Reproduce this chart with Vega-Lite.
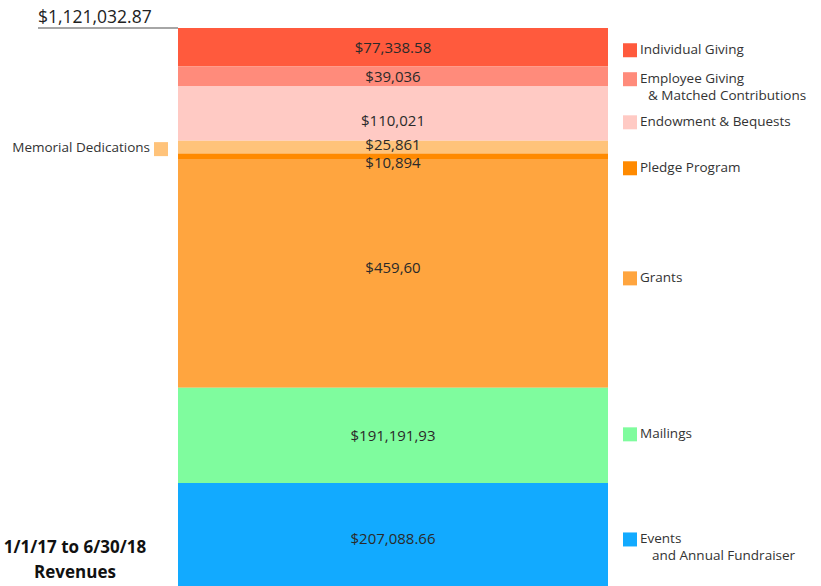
{
  "$schema": "https://vega.github.io/schema/vega-lite/v6.json",
  "width": 821,
  "height": 586,
  "padding": 0,
  "autosize": {"type": "none"},
  "background": "white",
  "config": {"view": {"stroke": null}, "font": "Open Sans"},
  "layer": [
    {
      "data": {
        "values": [
          {"period": "Revenues", "rank": 1, "cat": "Individual Giving", "value": 77338.58, "label": "$77,338.58", "legend": "Individual Giving", "legend2": ""},
          {"period": "Revenues", "rank": 2, "cat": "Employee Giving", "value": 39036, "label": "$39,036", "legend": "Employee Giving", "legend2": "& Matched Contributions"},
          {"period": "Revenues", "rank": 3, "cat": "Endowment & Bequests", "value": 110021, "label": "$110,021", "legend": "Endowment & Bequests", "legend2": ""},
          {"period": "Revenues", "rank": 4, "cat": "Memorial Dedications", "value": 25861, "label": "$25,861", "legend": "Memorial Dedications", "legend2": ""},
          {"period": "Revenues", "rank": 5, "cat": "Pledge Program", "value": 10894, "label": "$10,894", "legend": "Pledge Program", "legend2": ""},
          {"period": "Revenues", "rank": 6, "cat": "Grants", "value": 459601.7, "label": "$459,60", "legend": "Grants", "legend2": ""},
          {"period": "Revenues", "rank": 7, "cat": "Mailings", "value": 191191.93, "label": "$191,191,93", "legend": "Mailings", "legend2": ""},
          {"period": "Revenues", "rank": 8, "cat": "Events", "value": 207088.66, "label": "$207,088.66", "legend": "Events", "legend2": "and Annual Fundraiser"}
        ]
      },
      "transform": [
        {"stack": "value", "groupby": ["period"], "sort": [{"field": "rank", "order": "descending"}], "as": ["v0", "v1"]},
        {"calculate": "(datum.v0 + datum.v1) / 2", "as": "mid"}
      ],
      "layer": [
        {
          "mark": {"type": "bar"},
          "encoding": {
            "x": {"field": "period", "type": "nominal", "axis": null, "scale": {"type": "band", "range": [178, 608], "paddingInner": 0, "paddingOuter": 0}},
            "y": {"field": "v1", "type": "quantitative", "axis": null, "scale": {"domain": [0, 1121032.87], "range": [586, 28], "nice": false, "zero": true}},
            "y2": {"field": "v0"},
            "color": {
              "field": "cat", "type": "nominal", "legend": null,
              "scale": {
                "domain": ["Individual Giving", "Employee Giving", "Endowment & Bequests", "Memorial Dedications", "Pledge Program", "Grants", "Mailings", "Events"],
                "range": ["#FF5A3D", "#FF8B7B", "#FFCAC4", "#FFC37A", "#FF8A00", "#FFA53F", "#7FFC9E", "#12AAFF"]
              }
            }
          }
        },
        {
          "transform": [{"filter": "indexof(['Individual Giving','Employee Giving','Mailings'], datum.cat) >= 0"}],
          "mark": {"type": "text", "fontSize": 15, "color": "#2a2a2a", "dy": 1},
          "encoding": {"x": {"field": "period", "type": "nominal"}, "y": {"field": "mid", "type": "quantitative"}, "text": {"field": "label"}}
        },
        {
          "transform": [{"filter": "datum.cat == 'Memorial Dedications'"}],
          "mark": {"type": "text", "fontSize": 15, "color": "#2a2a2a", "dy": -2},
          "encoding": {"x": {"field": "period", "type": "nominal"}, "y": {"field": "mid", "type": "quantitative"}, "text": {"field": "label"}}
        },
        {
          "transform": [{"filter": "datum.cat == 'Pledge Program'"}],
          "mark": {"type": "text", "fontSize": 15, "color": "#2a2a2a", "dy": 7},
          "encoding": {"x": {"field": "period", "type": "nominal"}, "y": {"field": "mid", "type": "quantitative"}, "text": {"field": "label"}}
        },
        {
          "transform": [{"filter": "datum.cat == 'Events'"}],
          "mark": {"type": "text", "fontSize": 15, "color": "#2a2a2a", "dy": 5},
          "encoding": {"x": {"field": "period", "type": "nominal"}, "y": {"field": "mid", "type": "quantitative"}, "text": {"field": "label"}}
        },
        {
          "transform": [{"filter": "datum.cat == 'Endowment & Bequests'"}],
          "mark": {"type": "text", "fontSize": 15, "color": "#2a2a2a", "dy": 8},
          "encoding": {"x": {"field": "period", "type": "nominal"}, "y": {"field": "mid", "type": "quantitative"}, "text": {"field": "label"}}
        },
        {
          "transform": [{"filter": "datum.cat == 'Grants'"}],
          "mark": {"type": "text", "fontSize": 15, "color": "#2a2a2a", "dy": -5},
          "encoding": {"x": {"field": "period", "type": "nominal"}, "y": {"field": "mid", "type": "quantitative"}, "text": {"field": "label"}}
        },
        {
          "transform": [{"filter": "indexof(['Individual Giving','Employee Giving'], datum.cat) >= 0"}],
          "mark": {"type": "square", "size": 196, "filled": true, "opacity": 1, "xOffset": 22, "yOffset": 3},
          "encoding": {"x": {"field": "period", "type": "nominal", "bandPosition": 1}, "y": {"field": "mid", "type": "quantitative"}, "color": {"field": "cat", "type": "nominal", "legend": null}}
        },
        {
          "transform": [{"filter": "indexof(['Grants','Events'], datum.cat) >= 0"}],
          "mark": {"type": "square", "size": 196, "filled": true, "opacity": 1, "xOffset": 22, "yOffset": 5},
          "encoding": {"x": {"field": "period", "type": "nominal", "bandPosition": 1}, "y": {"field": "mid", "type": "quantitative"}, "color": {"field": "cat", "type": "nominal", "legend": null}}
        },
        {
          "transform": [{"filter": "datum.cat == 'Mailings'"}],
          "mark": {"type": "square", "size": 196, "filled": true, "opacity": 1, "xOffset": 22, "yOffset": -1},
          "encoding": {"x": {"field": "period", "type": "nominal", "bandPosition": 1}, "y": {"field": "mid", "type": "quantitative"}, "color": {"field": "cat", "type": "nominal", "legend": null}}
        },
        {
          "transform": [{"filter": "datum.cat == 'Endowment & Bequests'"}],
          "mark": {"type": "square", "size": 196, "filled": true, "opacity": 1, "xOffset": 22, "yOffset": 9},
          "encoding": {"x": {"field": "period", "type": "nominal", "bandPosition": 1}, "y": {"field": "mid", "type": "quantitative"}, "color": {"field": "cat", "type": "nominal", "legend": null}}
        },
        {
          "transform": [{"filter": "datum.cat == 'Pledge Program'"}],
          "mark": {"type": "square", "size": 196, "filled": true, "opacity": 1, "xOffset": 22, "yOffset": 12},
          "encoding": {"x": {"field": "period", "type": "nominal", "bandPosition": 1}, "y": {"field": "mid", "type": "quantitative"}, "color": {"field": "cat", "type": "nominal", "legend": null}}
        },
        {
          "transform": [{"filter": "indexof(['Individual Giving','Employee Giving'], datum.cat) >= 0"}],
          "mark": {"type": "text", "align": "left", "fontSize": 13.5, "color": "#333333", "dx": 32, "dy": 2.5},
          "encoding": {"x": {"field": "period", "type": "nominal", "bandPosition": 1}, "y": {"field": "mid", "type": "quantitative"}, "text": {"field": "legend"}}
        },
        {
          "transform": [{"filter": "indexof(['Grants','Events'], datum.cat) >= 0"}],
          "mark": {"type": "text", "align": "left", "fontSize": 13.5, "color": "#333333", "dx": 32, "dy": 5},
          "encoding": {"x": {"field": "period", "type": "nominal", "bandPosition": 1}, "y": {"field": "mid", "type": "quantitative"}, "text": {"field": "legend"}}
        },
        {
          "transform": [{"filter": "datum.cat == 'Mailings'"}],
          "mark": {"type": "text", "align": "left", "fontSize": 13.5, "color": "#333333", "dx": 32, "dy": -1},
          "encoding": {"x": {"field": "period", "type": "nominal", "bandPosition": 1}, "y": {"field": "mid", "type": "quantitative"}, "text": {"field": "legend"}}
        },
        {
          "transform": [{"filter": "datum.cat == 'Endowment & Bequests'"}],
          "mark": {"type": "text", "align": "left", "fontSize": 13.5, "color": "#333333", "dx": 32, "dy": 9},
          "encoding": {"x": {"field": "period", "type": "nominal", "bandPosition": 1}, "y": {"field": "mid", "type": "quantitative"}, "text": {"field": "legend"}}
        },
        {
          "transform": [{"filter": "datum.cat == 'Pledge Program'"}],
          "mark": {"type": "text", "align": "left", "fontSize": 13.5, "color": "#333333", "dx": 32, "dy": 12},
          "encoding": {"x": {"field": "period", "type": "nominal", "bandPosition": 1}, "y": {"field": "mid", "type": "quantitative"}, "text": {"field": "legend"}}
        },
        {
          "transform": [{"filter": "datum.cat == 'Employee Giving'"}],
          "mark": {"type": "text", "align": "left", "fontSize": 13.5, "color": "#333333", "dx": 40, "dy": 19.5},
          "encoding": {"x": {"field": "period", "type": "nominal", "bandPosition": 1}, "y": {"field": "mid", "type": "quantitative"}, "text": {"field": "legend2"}}
        },
        {
          "transform": [{"filter": "datum.cat == 'Events'"}],
          "mark": {"type": "text", "align": "left", "fontSize": 13.5, "color": "#333333", "dx": 44, "dy": 22},
          "encoding": {"x": {"field": "period", "type": "nominal", "bandPosition": 1}, "y": {"field": "mid", "type": "quantitative"}, "text": {"field": "legend2"}}
        },
        {
          "transform": [{"filter": "datum.cat == 'Memorial Dedications'"}],
          "mark": {"type": "square", "size": 196, "filled": true, "opacity": 1, "xOffset": -17, "yOffset": 2},
          "encoding": {"x": {"field": "period", "type": "nominal", "bandPosition": 0}, "y": {"field": "mid", "type": "quantitative"}, "color": {"field": "cat", "type": "nominal", "legend": null}}
        },
        {
          "transform": [{"filter": "datum.cat == 'Memorial Dedications'"}],
          "mark": {"type": "text", "align": "right", "fontSize": 13.5, "color": "#333333", "dx": -28, "dy": 1},
          "encoding": {"x": {"field": "period", "type": "nominal", "bandPosition": 0}, "y": {"field": "mid", "type": "quantitative"}, "text": {"field": "legend"}}
        }
      ]
    },
    {
      "data": {"values": [{"period": "Revenues", "total": 1121032.87, "totalLabel": "$1,121,032.87", "base": 0}]},
      "layer": [
        {
          "mark": {"type": "tick", "orient": "horizontal", "size": 140, "thickness": 1.5, "color": "#888888", "xOffset": -285, "opacity": 1},
          "encoding": {"x": {"field": "period", "type": "nominal"}, "y": {"field": "total", "type": "quantitative"}}
        },
        {
          "mark": {"type": "text", "align": "left", "baseline": "alphabetic", "fontSize": 17.5, "color": "#222222", "dx": -140, "dy": -5},
          "encoding": {"x": {"field": "period", "type": "nominal", "bandPosition": 0}, "y": {"field": "total", "type": "quantitative"}, "text": {"field": "totalLabel"}}
        },
        {
          "mark": {"type": "text", "align": "center", "baseline": "top", "fontSize": 17, "fontWeight": "bold", "color": "#111111", "lineHeight": 25, "dx": -103, "dy": -46, "text": ["1/1/17 to 6/30/18", "Revenues"]},
          "encoding": {"x": {"field": "period", "type": "nominal", "bandPosition": 0}, "y": {"field": "base", "type": "quantitative"}}
        }
      ]
    }
  ]
}
